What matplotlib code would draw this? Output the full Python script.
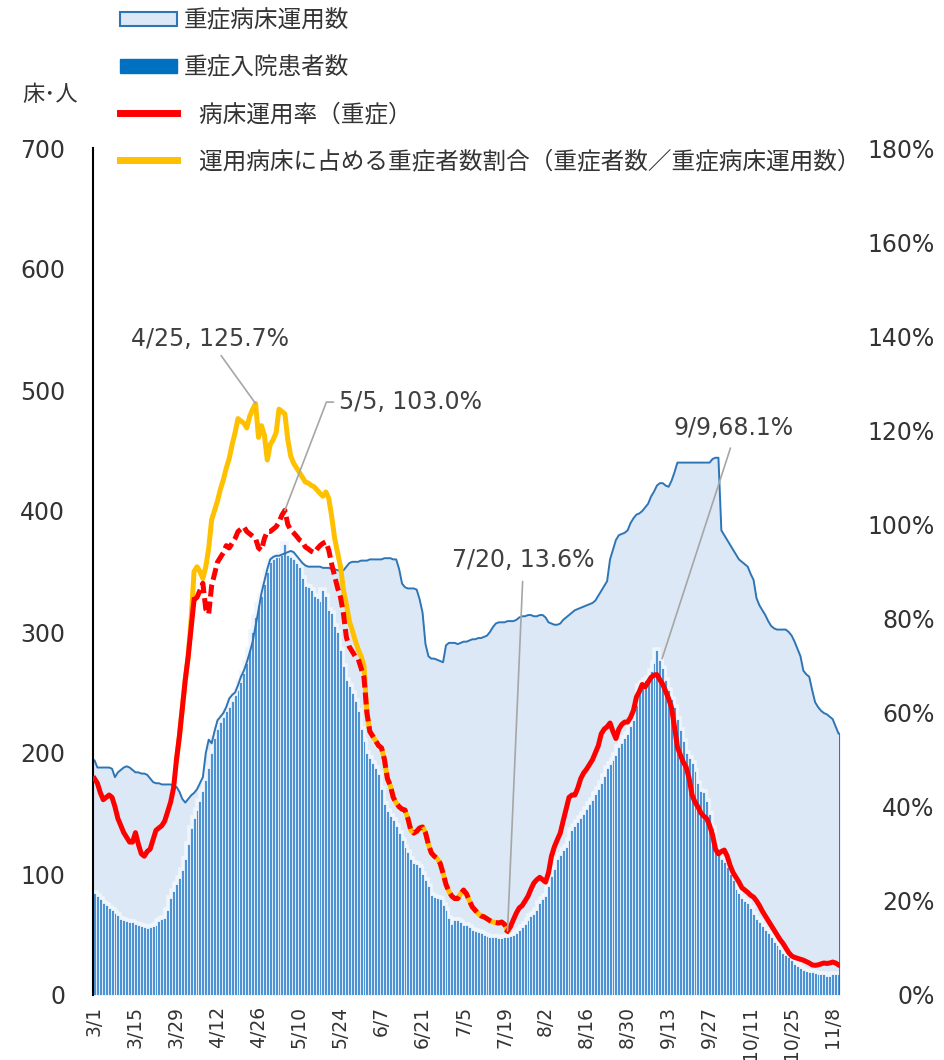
import numpy as np
import matplotlib
matplotlib.use("Agg")
import matplotlib.pyplot as plt
from matplotlib.patches import Patch
from matplotlib.lines import Line2D

plt.rcParams['font.family'] = ['DejaVu Sans', 'Noto Sans CJK JP']

# daily values from 3/1 to 11/10
tick_labels = ['3/1', '3/15', '3/29', '4/12', '4/26', '5/10', '5/24', '6/7', '6/21', '7/5',
               '7/19', '8/2', '8/16', '8/30', '9/13', '9/27', '10/11', '10/25', '11/8']

# 重症病床運用数 (beds)
beds = [
    194, 188, 188, 188, 188, 188, 187, 180, 184, 186,
    188, 189, 188, 186, 184, 184, 183, 183, 182, 179,
    176, 175, 175, 174, 174, 174, 174, 173, 172, 168,
    162, 159, 162, 165, 167, 170, 175, 180, 200, 211,
    208, 218, 227, 230, 233, 238, 245, 248, 250, 256,
    263, 268, 275, 283, 292, 305, 318, 332, 342, 352,
    360, 362, 363, 363, 364, 365, 366, 367, 366, 363,
    360, 357, 355, 354, 354, 354, 354, 354, 353, 353,
    353, 352, 352, 351, 351, 351, 354, 357, 358, 358,
    358, 359, 359, 359, 360, 360, 360, 360, 360, 361,
    361, 361, 360, 360, 352, 340, 337, 336, 336, 336,
    335, 327, 316, 290, 280, 278, 278, 277, 276, 275,
    289, 291, 291, 291, 290, 291, 292, 292, 293, 294,
    294, 295, 295, 296, 297, 300, 304, 307, 308, 308,
    308, 309, 309, 309, 310, 312, 313, 313, 314, 314,
    313, 313, 314, 314, 312, 308, 307, 306, 306, 307,
    310, 312, 314, 316, 318, 319, 320, 321, 322, 323,
    324, 326, 330, 334, 338, 342, 360, 368, 376, 380,
    381, 382, 384, 390, 394, 397, 398, 400, 403, 406,
    412, 416, 421, 423, 423, 421, 420, 425, 432, 440,
    440, 440, 440, 440, 440, 440, 440, 440, 440, 440,
    440, 443, 444, 444, 384, 380, 376, 372, 368, 364,
    360, 358, 356, 354, 348, 343, 328, 322, 318, 314,
    309, 305, 303, 302, 302, 302, 302, 300, 297, 292,
    286, 280, 268, 265, 263, 252, 242, 238, 235, 233,
    232, 230, 228, 222, 216,
]

# 重症入院患者数 (patients)
patients = [
    84, 82, 79, 76, 74, 72, 70, 68, 66, 63,
    62, 61, 60, 60, 59, 58, 57, 56, 55, 56,
    57, 58, 61, 63, 64, 70, 80, 86, 92, 97,
    103, 112, 125, 138, 146, 153, 160, 169, 178, 188,
    200, 212, 220, 226, 230, 235, 238, 243, 248, 252,
    259, 266, 274, 285, 300, 312, 322, 330, 340, 350,
    358, 360, 362, 362, 364, 373, 364, 362, 360, 357,
    354, 345, 338, 337, 335, 330, 328, 326, 335, 330,
    318, 316, 305, 300, 285, 272, 260, 255, 250, 243,
    235, 220, 210, 200, 196, 192, 188, 183, 170, 158,
    152, 148, 145, 140, 134, 128, 122, 118, 112, 109,
    108, 106, 100, 95, 90, 83, 81, 80, 79, 74,
    70, 64, 59, 62, 62, 60, 58, 58, 56, 54,
    53, 52, 51, 50, 49, 48, 48, 48, 47, 47,
    48, 48, 49, 50, 51, 54, 56, 59, 62, 65,
    67, 70, 76, 79, 82, 90, 98, 104, 112, 116,
    120, 122, 128, 136, 140, 143, 146, 150, 154, 158,
    161, 166, 170, 175, 181, 188, 191, 194, 198, 205,
    208, 212, 216, 222, 227, 240, 255, 258, 260, 262,
    268, 274, 285, 277, 270, 260, 252, 245, 238, 228,
    219, 210, 200, 196, 192, 185, 175, 169, 168, 160,
    150, 138, 125, 118, 112, 110, 106, 100, 95, 88,
    84, 80, 78, 76, 72, 67, 63, 60, 57, 54,
    51, 48, 44, 41, 38, 35, 33, 31, 29, 26,
    24, 22, 21, 20, 19, 19, 18, 17, 17, 17,
    16, 16, 17, 17, 17,
]

# 病床運用率（重症） in %
rate = [
    46, 45, 43, 41.5, 42, 42.5, 42, 40, 37.5, 36,
    34.5, 33.5, 32.5, 32.5, 34.5, 32, 30, 29.5, 30.5, 31,
    33, 35, 35.5, 36, 37, 39, 41, 44, 50, 55,
    61, 67, 72, 78, 84, 84.5, 86, 87.5, 82, 81,
    87, 89.5, 92, 93, 94, 95.5, 95, 96, 97, 98.5,
    99, 99.5, 98.5, 98, 97.5, 97, 95, 94.5, 97, 98.5,
    98.5, 99, 99.5, 100.5, 102, 103, 100, 98.8, 98.2, 97.5,
    96.7, 96.3, 95.2, 94.8, 94.3, 94, 94.8, 95.5, 96, 96.3,
    94.5, 91.5, 89, 86.5, 84.5, 81, 76, 74, 73, 72,
    71.5, 69.5, 67.5, 60, 56, 55, 54, 53, 52.5, 50,
    46, 44.5, 42, 40.8, 40, 39.5, 39.3, 37.5, 35, 34.4,
    34.8, 35.5, 35.7, 34.5, 32, 30.2, 29.5, 29, 28, 25.9,
    23.5, 22, 21, 20.5, 20.5, 21.5, 22.3, 21.5, 20, 18.7,
    18, 17.3, 16.8, 16.6, 16.2, 15.8, 15.5, 15.4, 15.3, 15.5,
    15, 13.6, 14.5, 16, 17.4, 18.5, 19, 20, 21, 22.5,
    23.8, 24.5, 25, 24.5, 24, 26, 29.5, 31.5, 33, 34.4,
    37, 39.5, 42, 42.5, 42.5, 44, 46, 47.2, 48, 49,
    50, 51.5, 53, 55.5, 56.5, 57, 57.8, 56, 54.5, 56.5,
    57.5, 58, 58, 59, 60.5, 63.3, 64.5, 66, 65.5, 66.5,
    67.5, 68, 68.1, 67, 66, 64.5, 63, 61, 57, 52.7,
    51, 49.5, 48.4, 46, 42.5, 41, 40, 38.7, 38, 37.5,
    36, 34, 31, 30, 30.5, 30.8, 29.5, 27.5, 26, 25,
    24, 22.8, 22.3, 21.8, 21.2, 20.8, 20, 19, 17.8, 16.8,
    15.8, 14.8, 13.8, 12.8, 11.8, 11, 10, 9, 8.3, 8,
    7.8, 7.6, 7.4, 7.1, 6.8, 6.4, 6.3, 6.4, 6.6, 6.8,
    6.7, 6.8, 7, 6.8, 6.4,
]

# 運用病床に占める重症者数割合 in %, where it differs from the rate (3/29 - 5/31)
ratio_start = 28
ratio_apr_may = [
    50, 55, 61, 67, 72, 80, 90, 91, 90, 88.5,
    91, 95, 101, 103, 105, 107.5, 109.5, 112, 114, 117,
    119.5, 122.5, 122, 121.5, 120.5, 123, 124.5, 125.7, 118.5, 121,
    119, 113.7, 117, 118, 119.5, 124.5, 124, 123.5, 118, 114.5,
    113, 112, 111, 110, 109, 108.8, 108.3, 108, 107.3, 106.6,
    106, 106.9, 105.5, 101.6, 97, 94, 91, 86, 83, 79.5,
    77.5, 75.4, 73.5, 72, 70,
]
ratio_end = 141  # 7/20

ann_days = [55, 65, 141, 192]
ann_labels = ['4/25, 125.7%', '5/5, 103.0%', '7/20, 13.6%', '9/9,68.1%']

legend_labels = ['重症病床運用数', '重症入院患者数', '  病床運用率（重症）',
                 '  運用病床に占める重症者数割合（重症者数／重症病床運用数）']

# ---------------------------------------------------------------
days = np.arange(len(beds))
beds = np.array(beds, float)
patients = np.array(patients, float)
rate = np.array(rate, float)
ratio = rate.copy()
ratio[ratio_start:ratio_start + len(ratio_apr_may)] = ratio_apr_may
n = len(days)

fig = plt.figure(figsize=(9.44, 10.6), dpi=100)
ax = fig.add_axes([93 / 944, 65 / 1060, (840 - 93) / 944, (995 - 148) / 1060])

x_area = np.concatenate([[-0.5], days, [n - 0.5]])
y_area = np.concatenate([[beds[0]], beds, [beds[-1]]])
ax.fill_between(x_area, y_area, color='#dce8f5', lw=0, zorder=1)
ax.bar(days, patients, width=1.0, color='#eef5fc', edgecolor='#eef5fc', lw=4, zorder=2)
ax.bar(days, patients, width=1.0, color='#4d92d3', edgecolor='white', lw=0.5, zorder=3)
ax.plot(np.concatenate([[-0.5], x_area, [n - 0.5]]),
        np.concatenate([[0], y_area, [0]]), color='#2e75b6', lw=1.4, zorder=4)

ax.set_xlim(-0.5, n - 0.5)
ax.set_ylim(0, 700)
ax.set_yticks(range(0, 701, 100))
ax.set_xticks(np.arange(len(tick_labels)) * 14)
ax.set_xticklabels(tick_labels, rotation=90)
ax.tick_params(axis='y', length=0, pad=20, labelsize=17, labelcolor='#333333')
ax.tick_params(axis='x', length=0, pad=8, labelsize=13.5, labelcolor='#333333')
for s in ['top', 'right', 'bottom']:
    ax.spines[s].set_visible(False)
ax.spines['left'].set_color('black')
ax.spines['left'].set_linewidth(1.5)
ax.spines['left'].set_zorder(6)

ax2 = ax.twinx()
ax2.set_ylim(0, 180)
ax2.set_yticks(range(0, 181, 20))
ax2.set_yticklabels([f'{v}%' for v in range(0, 181, 20)])
ax2.tick_params(axis='y', length=0, pad=68, labelsize=17, labelcolor='#333333')
for lab in ax2.get_yticklabels():
    lab.set_horizontalalignment('right')
for s in ax2.spines.values():
    s.set_visible(False)

red = '#ff0000'
yellow = '#ffc000'
ax2.plot(days[ratio_start:ratio_end + 1], ratio[ratio_start:ratio_end + 1],
         color=yellow, lw=3.6, zorder=3, solid_joinstyle='round')
ax2.plot(days[:35], rate[:35], color=red, lw=3.6, zorder=4, solid_joinstyle='round')
ax2.plot(days[34:ratio_end + 1], rate[34:ratio_end + 1], color=red, lw=3.6,
         dashes=(2.4, 1.0), zorder=4)
ax2.plot(days[ratio_end:], rate[ratio_end:], color=red, lw=3.6, zorder=4,
         solid_joinstyle='round')

lead = dict(arrowstyle='-', color='#a6a6a6', lw=1.2, shrinkA=2, shrinkB=0)
txt = dict(fontsize=17, color='#404040', zorder=6)
ax2.annotate(ann_labels[0], xy=(ann_days[0], ratio[ann_days[0]]), xytext=(39.3, 139.5),
             ha='center', va='center', arrowprops=dict(lead, relpos=(0.55, 0)), **txt)
ax2.annotate(ann_labels[1], xy=(ann_days[1], rate[ann_days[1]]), xytext=(83.5, 126),
             ha='left', va='center',
             arrowprops=dict(lead, relpos=(0, 0.5),
                             connectionstyle='angle,angleA=180,angleB=69,rad=0'), **txt)
ax2.annotate(ann_labels[2], xy=(ann_days[2], rate[ann_days[2]]), xytext=(146.3, 92.5),
             ha='center', va='center', arrowprops=dict(lead, relpos=(0.5, 0), shrinkA=5), **txt)
ax2.annotate(ann_labels[3], xy=(ann_days[3], rate[ann_days[3]]), xytext=(218, 120.5),
             ha='center', va='center',
             arrowprops=dict(lead, relpos=(0.5, 0), shrinkA=4, shrinkB=12), **txt)

handles = [Patch(facecolor='#dce8f5', edgecolor='#2e75b6', lw=1.5),
           Patch(facecolor='#0070c0', edgecolor='#0070c0'),
           Line2D([], [], color=red, lw=5),
           Line2D([], [], color=yellow, lw=5)]
leg = fig.legend(handles, legend_labels, loc='upper left',
                 bbox_to_anchor=(118 / 944, 1 - 6 / 1060),
                 frameon=False, fontsize=17, handlelength=2.4, handleheight=0.55,
                 handletextpad=0.3, labelspacing=0.97, borderpad=0.1, borderaxespad=0)
for t in leg.get_texts():
    t.set_color('#333333')

fig.text(22 / 944, 1 - 95 / 1060, '床･人', fontsize=16, va='center', ha='left', color='#333333')

fig.savefig('out.png', dpi=100)
